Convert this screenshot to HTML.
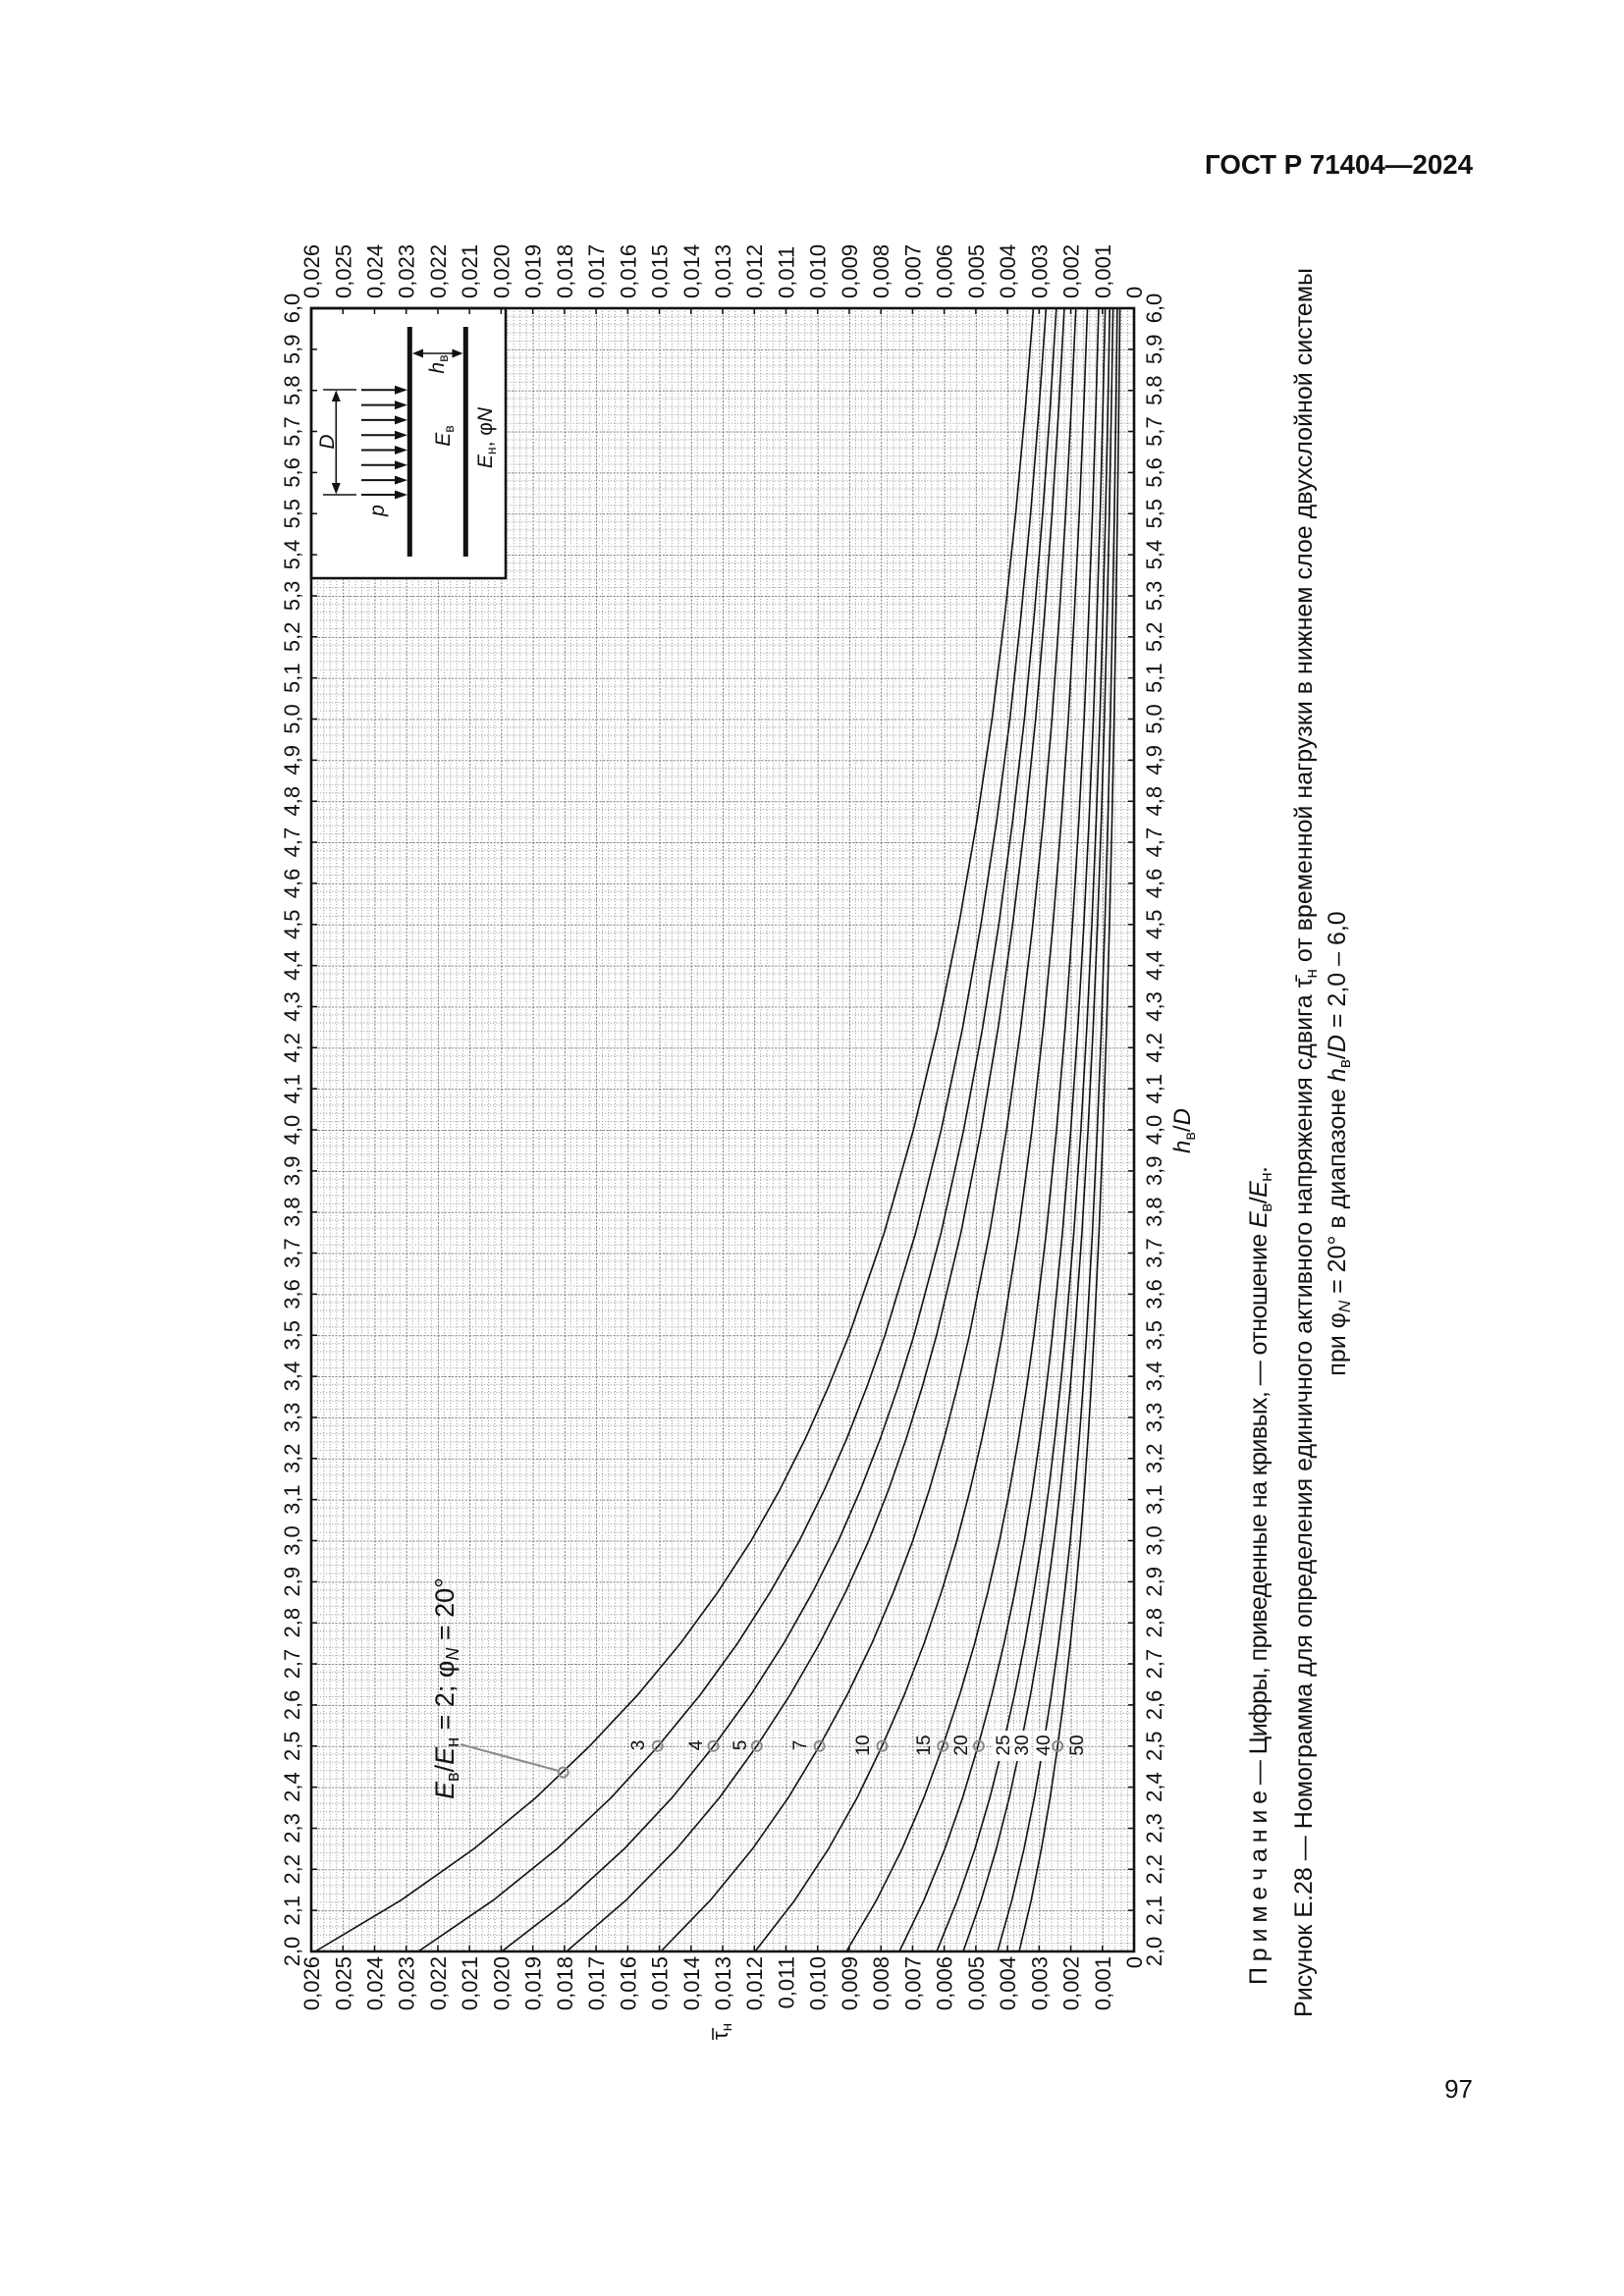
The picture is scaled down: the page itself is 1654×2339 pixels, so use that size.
<!DOCTYPE html>
<html><head><meta charset="utf-8">
<style>html,body{margin:0;padding:0;background:#fff}svg{display:block}</style>
</head><body>
<svg xmlns="http://www.w3.org/2000/svg" width="1654" height="2339" viewBox="0 0 1654 2339" font-family="'Liberation Sans','DejaVu Sans',sans-serif" fill="#111">
<defs>
<pattern id="g" patternUnits="userSpaceOnUse" x="317" y="314" width="32.23" height="41.85">
<path d="M6.45 0V41.85M12.89 0V41.85M19.34 0V41.85M25.78 0V41.85M0 8.37H32.23M0 16.74H32.23M0 25.11H32.23M0 33.48H32.23" fill="none" stroke="#8f8f8f" stroke-width="1" stroke-dasharray="1 2"/>
<path d="M0.5 0V41.85M0 0.5H32.23" fill="none" stroke="#777" stroke-width="1" stroke-dasharray="2 1.5"/>
</pattern>
<clipPath id="pc"><rect x="317" y="314" width="838" height="1674"/></clipPath>
</defs>

<!-- header -->
<text x="1500" y="177" text-anchor="end" font-size="27.5" font-weight="bold" textLength="273" lengthAdjust="spacingAndGlyphs">ГОСТ Р 71404—2024</text>

<!-- grid -->
<rect x="317" y="314" width="838" height="1674" fill="url(#g)"/>

<!-- curves -->
<g clip-path="url(#pc)" fill="none" stroke="#111">
<path vector-effect="non-scaling-stroke" stroke-width="1.6" stroke-linejoin="round" transform="translate(1155 0) scale(-834 1)" d="M1 1988L0.895 1935.7L0.8061 1883.4L0.7302 1831.1L0.6648 1778.75L0.6059 1726.4L0.5539 1674.1L0.5082 1621.8L0.4675 1569.5L0.4323 1517.2L0.401 1464.9L0.3731 1412.6L0.348 1360.25L0.305 1255.6L0.2694 1151L0.2393 1046.4L0.2139 941.75L0.1921 837.1L0.1734 732.5L0.158 627.9L0.1445 523.25L0.133 418.6L0.1229 314"/>
<path vector-effect="non-scaling-stroke" stroke-width="1.6" stroke-linejoin="round" transform="translate(1155 0) scale(-729 1)" d="M1 1988L0.895 1935.7L0.8061 1883.4L0.7302 1831.1L0.6648 1778.75L0.6059 1726.4L0.5539 1674.1L0.5082 1621.8L0.4675 1569.5L0.4323 1517.2L0.401 1464.9L0.3731 1412.6L0.348 1360.25L0.305 1255.6L0.2694 1151L0.2393 1046.4L0.2139 941.75L0.1921 837.1L0.1734 732.5L0.158 627.9L0.1445 523.25L0.133 418.6L0.1229 314"/>
<path vector-effect="non-scaling-stroke" stroke-width="1.6" stroke-linejoin="round" transform="translate(1155 0) scale(-644 1)" d="M1 1988L0.895 1935.7L0.8061 1883.4L0.7302 1831.1L0.6648 1778.75L0.6059 1726.4L0.5539 1674.1L0.5082 1621.8L0.4675 1569.5L0.4323 1517.2L0.401 1464.9L0.3731 1412.6L0.348 1360.25L0.305 1255.6L0.2694 1151L0.2393 1046.4L0.2139 941.75L0.1921 837.1L0.1734 732.5L0.158 627.9L0.1445 523.25L0.133 418.6L0.1229 314"/>
<path vector-effect="non-scaling-stroke" stroke-width="1.6" stroke-linejoin="round" transform="translate(1155 0) scale(-578 1)" d="M1 1988L0.895 1935.7L0.8061 1883.4L0.7302 1831.1L0.6648 1778.75L0.6059 1726.4L0.5539 1674.1L0.5082 1621.8L0.4675 1569.5L0.4323 1517.2L0.401 1464.9L0.3731 1412.6L0.348 1360.25L0.305 1255.6L0.2694 1151L0.2393 1046.4L0.2139 941.75L0.1921 837.1L0.1734 732.5L0.158 627.9L0.1445 523.25L0.133 418.6L0.1229 314"/>
<path vector-effect="non-scaling-stroke" stroke-width="1.6" stroke-linejoin="round" transform="translate(1155 0) scale(-482 1)" d="M1 1988L0.895 1935.7L0.8061 1883.4L0.7302 1831.1L0.6648 1778.75L0.6059 1726.4L0.5539 1674.1L0.5082 1621.8L0.4675 1569.5L0.4323 1517.2L0.401 1464.9L0.3731 1412.6L0.348 1360.25L0.305 1255.6L0.2694 1151L0.2393 1046.4L0.2139 941.75L0.1921 837.1L0.1734 732.5L0.158 627.9L0.1445 523.25L0.133 418.6L0.1229 314"/>
<path vector-effect="non-scaling-stroke" stroke-width="1.6" stroke-linejoin="round" transform="translate(1155 0) scale(-386 1)" d="M1 1988L0.895 1935.7L0.8061 1883.4L0.7302 1831.1L0.6648 1778.75L0.6059 1726.4L0.5539 1674.1L0.5082 1621.8L0.4675 1569.5L0.4323 1517.2L0.401 1464.9L0.3731 1412.6L0.348 1360.25L0.305 1255.6L0.2694 1151L0.2393 1046.4L0.2139 941.75L0.1921 837.1L0.1734 732.5L0.158 627.9L0.1445 523.25L0.133 418.6L0.1229 314"/>
<path vector-effect="non-scaling-stroke" stroke-width="1.6" stroke-linejoin="round" transform="translate(1155 0) scale(-293 1)" d="M1 1988L0.895 1935.7L0.8061 1883.4L0.7302 1831.1L0.6648 1778.75L0.6059 1726.4L0.5539 1674.1L0.5082 1621.8L0.4675 1569.5L0.4323 1517.2L0.401 1464.9L0.3731 1412.6L0.348 1360.25L0.305 1255.6L0.2694 1151L0.2393 1046.4L0.2139 941.75L0.1921 837.1L0.1734 732.5L0.158 627.9L0.1445 523.25L0.133 418.6L0.1229 314"/>
<path vector-effect="non-scaling-stroke" stroke-width="1.6" stroke-linejoin="round" transform="translate(1155 0) scale(-239 1)" d="M1 1988L0.895 1935.7L0.8061 1883.4L0.7302 1831.1L0.6648 1778.75L0.6059 1726.4L0.5539 1674.1L0.5082 1621.8L0.4675 1569.5L0.4323 1517.2L0.401 1464.9L0.3731 1412.6L0.348 1360.25L0.305 1255.6L0.2694 1151L0.2393 1046.4L0.2139 941.75L0.1921 837.1L0.1734 732.5L0.158 627.9L0.1445 523.25L0.133 418.6L0.1229 314"/>
<path vector-effect="non-scaling-stroke" stroke-width="1.6" stroke-linejoin="round" transform="translate(1155 0) scale(-201 1)" d="M1 1988L0.895 1935.7L0.8061 1883.4L0.7302 1831.1L0.6648 1778.75L0.6059 1726.4L0.5539 1674.1L0.5082 1621.8L0.4675 1569.5L0.4323 1517.2L0.401 1464.9L0.3731 1412.6L0.348 1360.25L0.305 1255.6L0.2694 1151L0.2393 1046.4L0.2139 941.75L0.1921 837.1L0.1734 732.5L0.158 627.9L0.1445 523.25L0.133 418.6L0.1229 314"/>
<path vector-effect="non-scaling-stroke" stroke-width="1.6" stroke-linejoin="round" transform="translate(1155 0) scale(-174 1)" d="M1 1988L0.895 1935.7L0.8061 1883.4L0.7302 1831.1L0.6648 1778.75L0.6059 1726.4L0.5539 1674.1L0.5082 1621.8L0.4675 1569.5L0.4323 1517.2L0.401 1464.9L0.3731 1412.6L0.348 1360.25L0.305 1255.6L0.2694 1151L0.2393 1046.4L0.2139 941.75L0.1921 837.1L0.1734 732.5L0.158 627.9L0.1445 523.25L0.133 418.6L0.1229 314"/>
<path vector-effect="non-scaling-stroke" stroke-width="1.6" stroke-linejoin="round" transform="translate(1155 0) scale(-139 1)" d="M1 1988L0.895 1935.7L0.8061 1883.4L0.7302 1831.1L0.6648 1778.75L0.6059 1726.4L0.5539 1674.1L0.5082 1621.8L0.4675 1569.5L0.4323 1517.2L0.401 1464.9L0.3731 1412.6L0.348 1360.25L0.305 1255.6L0.2694 1151L0.2393 1046.4L0.2139 941.75L0.1921 837.1L0.1734 732.5L0.158 627.9L0.1445 523.25L0.133 418.6L0.1229 314"/>
<path vector-effect="non-scaling-stroke" stroke-width="1.6" stroke-linejoin="round" transform="translate(1155 0) scale(-117 1)" d="M1 1988L0.895 1935.7L0.8061 1883.4L0.7302 1831.1L0.6648 1778.75L0.6059 1726.4L0.5539 1674.1L0.5082 1621.8L0.4675 1569.5L0.4323 1517.2L0.401 1464.9L0.3731 1412.6L0.348 1360.25L0.305 1255.6L0.2694 1151L0.2393 1046.4L0.2139 941.75L0.1921 837.1L0.1734 732.5L0.158 627.9L0.1445 523.25L0.133 418.6L0.1229 314"/>
</g>

<!-- knockouts for labels on curves -->
<g fill="#fff">
<rect x="1012" y="1763" width="18" height="31"/>
<rect x="1031" y="1763" width="18" height="31"/>
<rect x="1053" y="1763" width="18" height="31"/>
</g>

<!-- circles and leader -->
<line x1="469" y1="1777" x2="569" y2="1804" stroke="#8a8a8a" stroke-width="2"/>
<g fill="none" stroke="#8a8a8a" stroke-width="2">
<circle cx="573.7" cy="1805.5" r="5"/>
<circle cx="669.7" cy="1778.75" r="5"/>
<circle cx="726.5" cy="1778.75" r="5"/>
<circle cx="770.8" cy="1778.75" r="5"/>
<circle cx="834.6" cy="1778.75" r="5"/>
<circle cx="898.4" cy="1778.75" r="5"/>
<circle cx="960.2" cy="1778.75" r="5"/>
<circle cx="996.9" cy="1778.75" r="5"/>
<circle cx="1077.2" cy="1778.75" r="5"/>
</g>

<!-- curve labels -->
<g transform="rotate(-90)" font-size="19" text-anchor="middle">
<text><tspan x="-1778" y="655.8">3</tspan><tspan x="-1778" y="714.8">4</tspan><tspan x="-1778" y="759.8">5</tspan><tspan x="-1778" y="820.8">7</tspan><tspan x="-1778" y="884.8">10</tspan><tspan x="-1778" y="946.8">15</tspan><tspan x="-1778" y="984.8">20</tspan><tspan x="-1778" y="1027.8">25</tspan><tspan x="-1778" y="1046.8">30</tspan><tspan x="-1778" y="1068.8">40</tspan><tspan x="-1778" y="1102.8">50</tspan></text>
</g>
<g transform="rotate(-90)" font-size="27">
<text x="-1833" y="462"><tspan font-style="italic">E</tspan><tspan font-size="18" dy="5">в</tspan><tspan dy="-5">/</tspan><tspan font-style="italic">E</tspan><tspan font-size="18" dy="5">н</tspan><tspan dy="-5"> = 2; φ</tspan><tspan font-size="18" font-style="italic" dy="5">N</tspan><tspan dy="-5"> = 20°</tspan></text>
</g>

<!-- inset -->
<rect x="317" y="314" width="198" height="275" fill="#fff" stroke="#111" stroke-width="2.5"/>
<g stroke="#111">
<line x1="417.3" y1="333" x2="417.3" y2="567" stroke-width="5"/>
<line x1="474.3" y1="333" x2="474.3" y2="567" stroke-width="5"/>
<line x1="428" y1="360" x2="463" y2="360" stroke-width="1.6"/>
<line x1="342.3" y1="406" x2="342.3" y2="495" stroke-width="1.6"/>
<line x1="329" y1="397" x2="363" y2="397" stroke-width="1.6"/>
<line x1="329" y1="504" x2="363" y2="504" stroke-width="1.6"/>
<g stroke-width="2">
<line x1="368" y1="397.3" x2="404" y2="397.3"/>
<line x1="368" y1="412.6" x2="404" y2="412.6"/>
<line x1="368" y1="427.9" x2="404" y2="427.9"/>
<line x1="368" y1="443.2" x2="404" y2="443.2"/>
<line x1="368" y1="458.5" x2="404" y2="458.5"/>
<line x1="368" y1="473.8" x2="404" y2="473.8"/>
<line x1="368" y1="489.1" x2="404" y2="489.1"/>
<line x1="368" y1="504" x2="404" y2="504"/>
</g>
</g>
<g fill="#111">
<polygon points="420,360 431,355.5 431,364.5"/>
<polygon points="471.5,360 460.5,355.5 460.5,364.5"/>
<polygon points="342.3,397.5 337.8,409 346.8,409"/>
<polygon points="342.3,503.5 337.8,492 346.8,492"/>
<polygon points="402,392.8 415,397.3 402,401.8"/>
<polygon points="402,408.1 415,412.6 402,417.1"/>
<polygon points="402,423.4 415,427.9 402,432.4"/>
<polygon points="402,438.7 415,443.2 402,447.7"/>
<polygon points="402,454 415,458.5 402,463"/>
<polygon points="402,469.3 415,473.8 402,478.3"/>
<polygon points="402,484.6 415,489.1 402,493.6"/>
<polygon points="402,499.5 415,504 402,508.5"/>
</g>
<g transform="rotate(-90)" font-size="21" text-anchor="middle">
<text x="-450" y="340" font-style="italic">D</text>
<text x="-520" y="391" font-style="italic">p</text>
<text x="-444" y="458"><tspan font-style="italic">E</tspan><tspan font-size="14" dy="4">в</tspan></text>
<text x="-371" y="452"><tspan font-style="italic">h</tspan><tspan font-size="14" dy="4">в</tspan></text>
<text x="-446" y="501"><tspan font-style="italic">E</tspan><tspan font-size="14" dy="4">н</tspan><tspan dy="-4">, φ</tspan><tspan font-style="italic">N</tspan></text>
</g>

<!-- border and ticks -->
<rect x="317" y="314" width="838" height="1674" fill="none" stroke="#111" stroke-width="2.6"/>
<g stroke="#111" stroke-width="6" fill="none">
<line x1="320" y1="1988" x2="320" y2="314" stroke-dasharray="1.5 40.35" stroke-dashoffset="0.75"/>
<line x1="1152" y1="1988" x2="1152" y2="314" stroke-dasharray="1.5 40.35" stroke-dashoffset="0.75"/>
<line x1="1155" y1="1985" x2="317" y2="1985" stroke-dasharray="1.5 30.73" stroke-dashoffset="0.75"/>
<line x1="1155" y1="317" x2="317" y2="317" stroke-dasharray="1.5 30.73" stroke-dashoffset="0.75"/>
</g>

<!-- h labels left & right -->
<g transform="rotate(-90)" font-size="22" text-anchor="middle">
<text y="305"><tspan x="-1988">2,0</tspan><tspan x="-1946.15">2,1</tspan><tspan x="-1904.3">2,2</tspan><tspan x="-1862.45">2,3</tspan><tspan x="-1820.6">2,4</tspan><tspan x="-1778.75">2,5</tspan><tspan x="-1736.9">2,6</tspan><tspan x="-1695.05">2,7</tspan><tspan x="-1653.2">2,8</tspan><tspan x="-1611.35">2,9</tspan><tspan x="-1569.5">3,0</tspan><tspan x="-1527.65">3,1</tspan><tspan x="-1485.8">3,2</tspan><tspan x="-1443.95">3,3</tspan><tspan x="-1402.1">3,4</tspan><tspan x="-1360.25">3,5</tspan><tspan x="-1318.4">3,6</tspan><tspan x="-1276.55">3,7</tspan><tspan x="-1234.7">3,8</tspan><tspan x="-1192.85">3,9</tspan><tspan x="-1151">4,0</tspan><tspan x="-1109.15">4,1</tspan><tspan x="-1067.3">4,2</tspan><tspan x="-1025.45">4,3</tspan><tspan x="-983.6">4,4</tspan><tspan x="-941.75">4,5</tspan><tspan x="-899.9">4,6</tspan><tspan x="-858.05">4,7</tspan><tspan x="-816.2">4,8</tspan><tspan x="-774.35">4,9</tspan><tspan x="-732.5">5,0</tspan><tspan x="-690.65">5,1</tspan><tspan x="-648.8">5,2</tspan><tspan x="-606.95">5,3</tspan><tspan x="-565.1">5,4</tspan><tspan x="-523.25">5,5</tspan><tspan x="-481.4">5,6</tspan><tspan x="-439.55">5,7</tspan><tspan x="-397.7">5,8</tspan><tspan x="-355.85">5,9</tspan><tspan x="-314">6,0</tspan></text>
<text y="1183"><tspan x="-1988">2,0</tspan><tspan x="-1946.15">2,1</tspan><tspan x="-1904.3">2,2</tspan><tspan x="-1862.45">2,3</tspan><tspan x="-1820.6">2,4</tspan><tspan x="-1778.75">2,5</tspan><tspan x="-1736.9">2,6</tspan><tspan x="-1695.05">2,7</tspan><tspan x="-1653.2">2,8</tspan><tspan x="-1611.35">2,9</tspan><tspan x="-1569.5">3,0</tspan><tspan x="-1527.65">3,1</tspan><tspan x="-1485.8">3,2</tspan><tspan x="-1443.95">3,3</tspan><tspan x="-1402.1">3,4</tspan><tspan x="-1360.25">3,5</tspan><tspan x="-1318.4">3,6</tspan><tspan x="-1276.55">3,7</tspan><tspan x="-1234.7">3,8</tspan><tspan x="-1192.85">3,9</tspan><tspan x="-1151">4,0</tspan><tspan x="-1109.15">4,1</tspan><tspan x="-1067.3">4,2</tspan><tspan x="-1025.45">4,3</tspan><tspan x="-983.6">4,4</tspan><tspan x="-941.75">4,5</tspan><tspan x="-899.9">4,6</tspan><tspan x="-858.05">4,7</tspan><tspan x="-816.2">4,8</tspan><tspan x="-774.35">4,9</tspan><tspan x="-732.5">5,0</tspan><tspan x="-690.65">5,1</tspan><tspan x="-648.8">5,2</tspan><tspan x="-606.95">5,3</tspan><tspan x="-565.1">5,4</tspan><tspan x="-523.25">5,5</tspan><tspan x="-481.4">5,6</tspan><tspan x="-439.55">5,7</tspan><tspan x="-397.7">5,8</tspan><tspan x="-355.85">5,9</tspan><tspan x="-314">6,0</tspan></text>
</g>

<!-- tau labels bottom & top -->
<g transform="rotate(-90)" font-size="22">
<text text-anchor="end"><tspan x="-1993" y="1163">0</tspan><tspan x="-1993" y="1130.77">0,001</tspan><tspan x="-1993" y="1098.54">0,002</tspan><tspan x="-1993" y="1066.31">0,003</tspan><tspan x="-1993" y="1034.08">0,004</tspan><tspan x="-1993" y="1001.85">0,005</tspan><tspan x="-1993" y="969.62">0,006</tspan><tspan x="-1993" y="937.39">0,007</tspan><tspan x="-1993" y="905.16">0,008</tspan><tspan x="-1993" y="872.93">0,009</tspan><tspan x="-1993" y="840.7">0,010</tspan><tspan x="-1993" y="808.47">0,011</tspan><tspan x="-1993" y="776.24">0,012</tspan><tspan x="-1993" y="744.01">0,013</tspan><tspan x="-1993" y="711.78">0,014</tspan><tspan x="-1993" y="679.55">0,015</tspan><tspan x="-1993" y="647.32">0,016</tspan><tspan x="-1993" y="615.09">0,017</tspan><tspan x="-1993" y="582.86">0,018</tspan><tspan x="-1993" y="550.63">0,019</tspan><tspan x="-1993" y="518.4">0,020</tspan><tspan x="-1993" y="486.17">0,021</tspan><tspan x="-1993" y="453.94">0,022</tspan><tspan x="-1993" y="421.71">0,023</tspan><tspan x="-1993" y="389.48">0,024</tspan><tspan x="-1993" y="357.25">0,025</tspan><tspan x="-1993" y="325.02">0,026</tspan></text>
<text text-anchor="start"><tspan x="-304" y="1163">0</tspan><tspan x="-304" y="1130.77">0,001</tspan><tspan x="-304" y="1098.54">0,002</tspan><tspan x="-304" y="1066.31">0,003</tspan><tspan x="-304" y="1034.08">0,004</tspan><tspan x="-304" y="1001.85">0,005</tspan><tspan x="-304" y="969.62">0,006</tspan><tspan x="-304" y="937.39">0,007</tspan><tspan x="-304" y="905.16">0,008</tspan><tspan x="-304" y="872.93">0,009</tspan><tspan x="-304" y="840.7">0,010</tspan><tspan x="-304" y="808.47">0,011</tspan><tspan x="-304" y="776.24">0,012</tspan><tspan x="-304" y="744.01">0,013</tspan><tspan x="-304" y="711.78">0,014</tspan><tspan x="-304" y="679.55">0,015</tspan><tspan x="-304" y="647.32">0,016</tspan><tspan x="-304" y="615.09">0,017</tspan><tspan x="-304" y="582.86">0,018</tspan><tspan x="-304" y="550.63">0,019</tspan><tspan x="-304" y="518.4">0,020</tspan><tspan x="-304" y="486.17">0,021</tspan><tspan x="-304" y="453.94">0,022</tspan><tspan x="-304" y="421.71">0,023</tspan><tspan x="-304" y="389.48">0,024</tspan><tspan x="-304" y="357.25">0,025</tspan><tspan x="-304" y="325.02">0,026</tspan></text>
</g>

<!-- axis titles -->
<line x1="726" y1="2078" x2="726" y2="2066" stroke="#111" stroke-width="1.6"/>
<g transform="rotate(-90)">
<text x="-2078" y="741" font-size="22">τ<tspan font-size="15" dy="4">н</tspan></text>
<text x="-1152" y="1212" font-size="24" text-anchor="middle"><tspan font-style="italic">h</tspan><tspan font-size="16" dy="5">в</tspan><tspan dy="-5">/</tspan><tspan font-style="italic">D</tspan></text>
</g>

<!-- captions -->
<g transform="rotate(-90)" font-size="25">
<text x="-2022" y="1290" textLength="834" lengthAdjust="spacing">П р и м е ч а н и е — Цифры, приведенные на кривых, — отношение <tspan font-style="italic">E</tspan><tspan font-size="17" dy="5">в</tspan><tspan dy="-5">/</tspan><tspan font-style="italic">E</tspan><tspan font-size="17" dy="5">н</tspan><tspan dy="-5">.</tspan></text>
<text x="-2055" y="1336" textLength="1782" lengthAdjust="spacing">Рисунок Е.28 — Номограмма для определения единичного активного напряжения сдвига τ̄<tspan font-size="17" dy="5">н</tspan><tspan dy="-5"> от временной нагрузки в нижнем слое двухслойной системы</tspan></text>
<text x="-1165" y="1370" text-anchor="middle">при φ<tspan font-size="17" font-style="italic" dy="5">N</tspan><tspan dy="-5"> = 20° в диапазоне </tspan><tspan font-style="italic">h</tspan><tspan font-size="17" dy="5">в</tspan><tspan dy="-5">/</tspan><tspan font-style="italic">D</tspan> = 2,0 – 6,0</text>
</g>

<!-- page number -->
<text x="1500" y="2137" text-anchor="end" font-size="26">97</text>
</svg>
</body></html>
